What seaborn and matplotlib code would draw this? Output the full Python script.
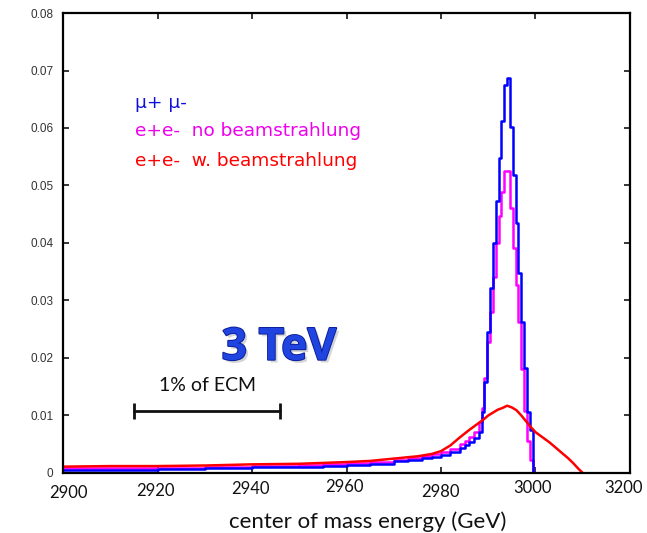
import matplotlib
matplotlib.use("Agg")
import matplotlib.pyplot as plt
import matplotlib.patheffects as pe
import seaborn as sns
import pandas as pd

# mu+ mu- luminosity spectrum (step histogram, left bin edges)
mumu_x = [2900, 2910, 2920, 2930, 2940, 2950, 2955, 2960, 2965, 2970, 2973, 2976, 2978,
          2980, 2982, 2984, 2985, 2986, 2987,
          2988.0, 2988.6, 2989.2, 2989.8, 2990.4, 2991.0, 2991.6, 2992.2, 2992.8, 2993.4,
          2994.0, 2994.6, 2995.2, 2995.8, 2996.4, 2997.0, 2997.6, 2998.2, 2998.8, 2999.4]
mumu_y = [0.0005, 0.0006, 0.0007, 0.0008, 0.0010, 0.0011, 0.0012, 0.0014, 0.0016, 0.0020, 0.0023, 0.0026, 0.0028,
          0.0031, 0.0036, 0.0043, 0.0049, 0.0054, 0.0061,
          0.0071, 0.0106, 0.0158, 0.0245, 0.0322, 0.0400, 0.0473, 0.0548, 0.0612, 0.0675,
          0.0687, 0.0602, 0.0518, 0.0435, 0.0348, 0.0263, 0.0182, 0.0106, 0.0075, 0.0]

# e+e- without beamstrahlung
ee_x = mumu_x
ee_y = [0.0008, 0.0009, 0.0009, 0.0010, 0.0012, 0.0014, 0.0015, 0.0017, 0.0019, 0.0023, 0.0026, 0.0030, 0.0033,
        0.0036, 0.0042, 0.0050, 0.0056, 0.0062, 0.0072,
        0.0088, 0.0113, 0.0165, 0.0228, 0.0280, 0.0340, 0.0400, 0.0447, 0.0489, 0.0525,
        0.0525, 0.0460, 0.0391, 0.0327, 0.0263, 0.0180, 0.0108, 0.0055, 0.0023, 0.0]

# e+e- with beamstrahlung
eeb_x = [2900, 2910, 2920, 2930, 2940, 2950, 2960, 2965, 2970, 2975, 2978, 2980, 2982, 2984, 2986,
         2988, 2989, 2990, 2991, 2992, 2993, 2994, 2995, 2996, 2997, 2998, 2999, 3000,
         3001, 3002, 3003, 3004, 3005, 3006, 3007, 3008, 3009, 3010]
eeb_y = [0.0011, 0.0012, 0.0012, 0.0013, 0.0015, 0.0016, 0.0019, 0.0021, 0.0025, 0.0029, 0.0033, 0.0038, 0.0048, 0.0062, 0.0075,
         0.0087, 0.0093, 0.0100, 0.0105, 0.0110, 0.0113, 0.0117, 0.0114, 0.0109, 0.0100, 0.0090, 0.0080, 0.0071,
         0.0065, 0.0059, 0.0053, 0.0046, 0.0039, 0.0032, 0.0025, 0.0017, 0.0008, 0.0]

xtick_vals = [2900, 2920, 2940, 2960, 2980, 3000, 3020]
xtick_text = ['2900', '2920', '2940', '2960', '2980', '3000', '3200']
ytick_vals = [0, 0.01, 0.02, 0.03, 0.04, 0.05, 0.06, 0.07, 0.08]
ytick_text = ['0', '0.01', '0.02', '0.03', '0.04', '0.05', '0.06', '0.07', '0.08']

scale_bar = [2915, 2946]
scale_y = 0.0108

sns.set_style('ticks')

fig = plt.figure(figsize=(6.47, 5.33), dpi=100)
ax = fig.add_axes([0.0974, 0.1126, 0.8763, 0.863])

df_ee = pd.DataFrame({'x': ee_x, 'y': ee_y})
df_mumu = pd.DataFrame({'x': mumu_x, 'y': mumu_y})
df_eeb = pd.DataFrame({'x': eeb_x, 'y': eeb_y})

sns.lineplot(data=df_ee, x='x', y='y', ax=ax, color='#ff00ff', lw=1.8, drawstyle='steps-post', estimator=None)
sns.lineplot(data=df_mumu, x='x', y='y', ax=ax, color='#0000ff', lw=1.8, drawstyle='steps-post', estimator=None)
sns.lineplot(data=df_eeb, x='x', y='y', ax=ax, color='#ff0000', lw=1.8, estimator=None)

ax.set_xlim(2900, 3020)
ax.set_ylim(0, 0.08)
ax.set_xlabel('')
ax.set_ylabel('')

ax.set_xticks(xtick_vals)
ax.set_xticklabels([])
ax.set_yticks(ytick_vals)
ax.set_yticklabels(ytick_text, fontsize=8.5, family='Liberation Sans', color='#333333')
ax.tick_params(direction='in', top=True, right=True, length=4, width=1.3, pad=7)
for s in ax.spines.values():
    s.set_linewidth(1.6)
    s.set_color('black')

# x tick labels are slightly staggered in the original
x_off = [5, -2, -2, -2, -1, -3, -6]
y_off = [20, 18, 16, 14, 19, 15, 15]
for v, t, dx, dy in zip(xtick_vals, xtick_text, x_off, y_off):
    ax.annotate(t, xy=(v, 0), xycoords=('data', 'axes fraction'), xytext=(dx, -dy),
                textcoords='offset pixels', ha='center', va='center',
                fontsize=12, family='Lato', color='#111111', annotation_clip=False)

ax.text(0.538, -0.105, 'center of mass energy (GeV)', transform=ax.transAxes,
        ha='center', va='center', fontsize=16, family='Lato', color='#111111')

# legend-like labels
ax.text(2915.2, 0.0643, 'μ+ μ-', color='#1010dd', fontsize=13.3, family='DejaVu Sans', va='center')
ax.text(2915.2, 0.0595, 'e+e-  no beamstrahlung', color='#ee00ee', fontsize=13.3, family='DejaVu Sans', va='center')
ax.text(2915.2, 0.0543, 'e+e-  w. beamstrahlung', color='#ff0000', fontsize=13.3, family='DejaVu Sans', va='center')

ax.text(2945.7, 0.0217, '3 TeV', color='#1f44e0', fontsize=32, fontweight='bold', family='Open Sans',
        ha='center', va='center',
        path_effects=[pe.SimplePatchShadow(offset=(2, -2), alpha=0.3, shadow_rgbFace='#777777'),
                      pe.withStroke(linewidth=1.4, foreground='#0b1f9a')])

ax.text(2930.5, 0.0152, '1% of ECM', color='#111111', fontsize=14, family='Lato', ha='center', va='center')
ax.plot(scale_bar, [scale_y, scale_y], color='#111111', lw=2, marker='|', markersize=12, mew=2)

fig.savefig('out.png', dpi=100)
